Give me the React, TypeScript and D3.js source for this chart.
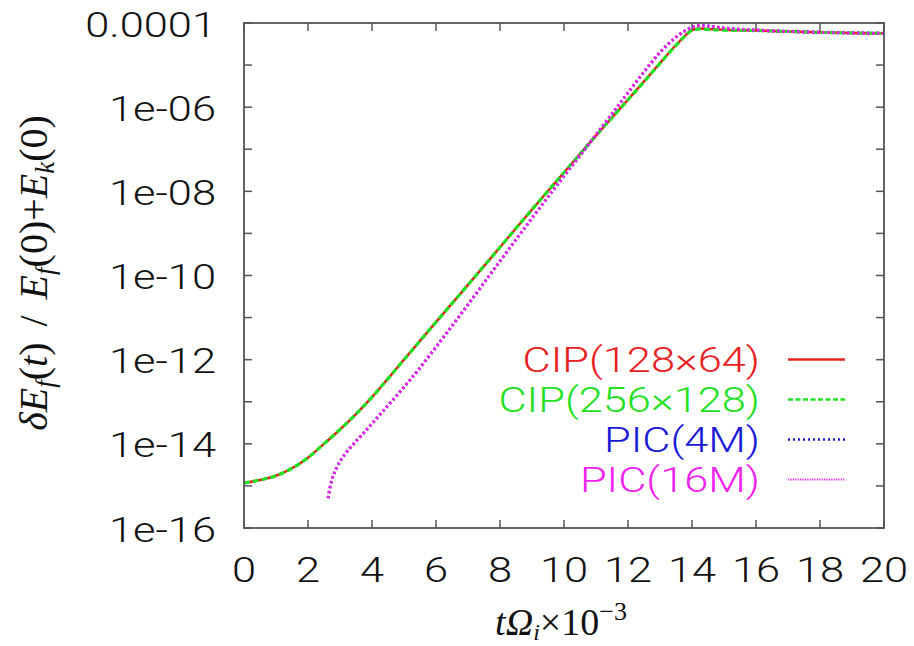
import React from "react";
import * as d3 from "d3";

const W = 914;
const H = 646;
const M = { left: 244, right: 884, top: 23, bottom: 528 };

const xTicks = [0, 2, 4, 6, 8, 10, 12, 14, 16, 18, 20];
const yTickLabels = ["0.0001", "1e-06", "1e-08", "1e-10", "1e-12", "1e-14", "1e-16"];
const yLabelValues = [1e-4, 1e-6, 1e-8, 1e-10, 1e-12, 1e-14, 1e-16];
const yMinorValues = [1e-5, 1e-7, 1e-9, 1e-11, 1e-13, 1e-15];

// CIP(128x64)
const tCip128 = [0, 0.5, 1, 1.5, 2, 2.5, 3, 3.5, 4, 4.5, 5, 6, 7, 8, 9, 10, 11, 12, 12.5, 13, 13.5, 13.75, 14, 14.25, 14.5, 15, 16, 17, 18, 19, 20];
const vCip128 = [1.17e-15, 1.38e-15, 1.74e-15, 2.63e-15, 4.7e-15, 1.0e-14, 2.19e-14, 5.1e-14, 1.29e-13, 3.55e-13, 1.0e-12, 7.8e-12, 6.0e-11, 4.7e-10, 3.7e-9, 2.8e-8, 2.1e-7, 1.51e-6, 4.1e-6, 1.12e-5, 3.0e-5, 4.7e-5, 6.8e-5, 7.4e-5, 7.2e-5, 6.9e-5, 6.6e-5, 6.3e-5, 6.0e-5, 5.8e-5, 5.7e-5];
// CIP(256x128)
const tCip256 = [0, 0.5, 1, 1.5, 2, 2.5, 3, 3.5, 4, 4.5, 5, 6, 7, 8, 9, 10, 11, 12, 12.5, 13, 13.5, 13.75, 14, 14.25, 14.5, 15, 16, 17, 18, 19, 20];
const vCip256 = [1.17e-15, 1.38e-15, 1.74e-15, 2.63e-15, 4.7e-15, 1.0e-14, 2.19e-14, 5.1e-14, 1.29e-13, 3.55e-13, 1.0e-12, 7.8e-12, 6.0e-11, 4.7e-10, 3.7e-9, 2.8e-8, 2.1e-7, 1.5e-6, 4.0e-6, 1.1e-5, 2.95e-5, 4.6e-5, 6.7e-5, 7.2e-5, 7.0e-5, 6.8e-5, 6.6e-5, 6.3e-5, 6.0e-5, 5.8e-5, 5.7e-5];
// PIC(4M)
const tPic4 = [2.63, 2.66, 2.69, 2.74, 2.8, 2.9, 3.0, 3.15, 3.3, 3.55, 3.8, 4.3, 4.9, 5.45, 6, 7, 8, 9, 10, 11, 12, 12.5, 13, 13.5, 14, 14.25, 14.5, 15, 15.5, 16, 17, 18, 19, 20];
const vPic4 = [5.1e-16, 7.1e-16, 9.3e-16, 1.35e-15, 1.86e-15, 2.75e-15, 3.8e-15, 5.6e-15, 7.8e-15, 1.26e-14, 2.04e-14, 5.5e-14, 1.82e-13, 5.75e-13, 2.0e-12, 2.04e-11, 2.19e-10, 2.3e-9, 2.3e-8, 2.2e-7, 2.2e-6, 6.9e-6, 2.0e-5, 4.6e-5, 7.9e-5, 8.7e-5, 8.5e-5, 7.6e-5, 7.1e-5, 6.8e-5, 6.3e-5, 6.0e-5, 5.8e-5, 5.7e-5];
// PIC(16M)
const tPic16 = [2.63, 2.66, 2.69, 2.74, 2.8, 2.9, 3.0, 3.15, 3.3, 3.55, 3.8, 4.3, 4.9, 5.45, 6, 7, 8, 9, 10, 11, 12, 12.5, 13, 13.5, 14, 14.25, 14.5, 15, 15.5, 16, 17, 18, 19, 20];
const vPic16 = [5.1e-16, 7.1e-16, 9.3e-16, 1.35e-15, 1.86e-15, 2.75e-15, 3.8e-15, 5.6e-15, 7.8e-15, 1.26e-14, 2.04e-14, 5.5e-14, 1.82e-13, 5.75e-13, 2.0e-12, 2.04e-11, 2.19e-10, 2.3e-9, 2.3e-8, 2.2e-7, 2.2e-6, 6.9e-6, 2.0e-5, 4.6e-5, 7.9e-5, 8.7e-5, 8.5e-5, 7.6e-5, 7.1e-5, 6.8e-5, 6.3e-5, 6.0e-5, 5.8e-5, 5.7e-5];

const seriesNames = ["CIP(128×64)", "CIP(256×128)", "PIC(4M)", "PIC(16M)"];

const RED = "#e8201e";
const GREEN = "#22e022";
const BLUE = "#1818d6";
const MAGENTA = "#f022f0";
const AXIS = "#555555";

const FONT = "Roboto, 'Liberation Sans', Arial, sans-serif";
const SERIF = "'Liberation Serif', 'Times New Roman', serif";
const FS = 35;
const SX = 1.24;

export default function App() {
  const x = d3.scaleLinear().domain([0, 20]).range([M.left, M.right]);
  const y = d3.scaleLog().domain([1e-16, 1e-4]).range([M.bottom, M.top]);

  const line = d3
    .line<[number, number]>()
    .x((d) => x(d[0]))
    .y((d) => y(d[1]))
    .curve(d3.curveMonotoneX);

  const zip = (t: number[], v: number[]) => t.map((ti, i) => [ti, v[i]] as [number, number]);

  const styles = [
    { color: RED, width: 2.5, dash: undefined as string | undefined, data: zip(tCip128, vCip128), legendDash: undefined as string | undefined, legendWidth: 2.5 },
    { color: GREEN, width: 3.2, dash: "6,3", data: zip(tCip256, vCip256), legendDash: "5,2.5", legendWidth: 2.5 },
    { color: BLUE, width: 3, dash: "2,3", data: zip(tPic4, vPic4), legendDash: "2,3", legendWidth: 2.5 },
    { color: MAGENTA, width: 3, dash: "2.5,2.5", data: zip(tPic16, vPic16), legendDash: "1.2,1.2", legendWidth: 2 },
  ];

  const allY = [...yLabelValues, ...yMinorValues];
  const tickLen = 8;

  return (
    <svg
      width={W}
      height={H}
      style={{ position: "absolute", left: 0, top: 0, background: "#fff" }}
    >
      <rect x={0} y={0} width={W} height={H} fill="#fff" />
      <defs>
        <clipPath id="plotclip">
          <rect x={M.left} y={M.top - 2} width={M.right - M.left} height={M.bottom - M.top + 2} />
        </clipPath>
      </defs>

      {/* ticks */}
      {xTicks.map((t) => (
        <g key={"xt" + t}>
          <line x1={x(t)} x2={x(t)} y1={M.bottom} y2={M.bottom - tickLen} stroke={AXIS} strokeWidth={1.5} />
          <line x1={x(t)} x2={x(t)} y1={M.top} y2={M.top + tickLen} stroke={AXIS} strokeWidth={1.5} />
        </g>
      ))}
      {allY.map((v, i) => (
        <g key={"yt" + i}>
          <line x1={M.left} x2={M.left + tickLen} y1={y(v)} y2={y(v)} stroke={AXIS} strokeWidth={1.5} />
          <line x1={M.right} x2={M.right - tickLen} y1={y(v)} y2={y(v)} stroke={AXIS} strokeWidth={1.5} />
        </g>
      ))}

      {/* curves */}
      <g clipPath="url(#plotclip)" fill="none">
        {styles.map((s, i) => (
          <path
            key={"c" + i}
            d={line(s.data) || ""}
            stroke={s.color}
            strokeWidth={s.width}
            strokeDasharray={s.dash}
            strokeLinecap="butt"
          />
        ))}
      </g>

      {/* frame */}
      <rect
        x={M.left}
        y={M.top}
        width={M.right - M.left}
        height={M.bottom - M.top}
        fill="none"
        stroke={AXIS}
        strokeWidth={1.8}
      />

      {/* x tick labels */}
      {xTicks.map((t) => (
        <text
          key={"xl" + t}
          transform={`translate(${x(t)},582) scale(${SX},1)`}
          textAnchor="middle"
          fontFamily={FONT}
          fontWeight={300}
          fontSize={FS}
          fill="#111"
        >
          {String(t)}
        </text>
      ))}

      {/* y tick labels */}
      {yLabelValues.map((v, i) => (
        <text
          key={"yl" + i}
          transform={`translate(216,${y(v) + 13.5}) scale(${SX},1)`}
          textAnchor="end"
          fontFamily={FONT}
          fontWeight={300}
          fontSize={FS}
          fill="#111"
        >
          {yTickLabels[i]}
        </text>
      ))}

      {/* legend */}
      {styles.map((s, i) => {
        const base = 371.5 + i * 40;
        return (
          <g key={"lg" + i}>
            <text
              transform={`translate(760,${base}) scale(${SX},1)`}
              textAnchor="end"
              fontFamily={FONT}
              fontWeight={300}
              fontSize={FS}
              fill={s.color}
            >
              {seriesNames[i]}
            </text>
            <line
              x1={788}
              x2={845}
              y1={base - 12}
              y2={base - 12}
              stroke={s.color}
              strokeWidth={s.legendWidth}
              strokeDasharray={s.legendDash}
            />
          </g>
        );
      })}

      {/* x axis label */}
      <text x={561} y={635} textAnchor="middle" fontFamily={SERIF} fontSize={38} fill="#111">
        <tspan fontStyle="italic">t</tspan>
        <tspan fontStyle="italic">Ω</tspan>
        <tspan fontStyle="italic" fontSize={24} dy={5}>i</tspan>
        <tspan dy={-5}>×10</tspan>
        <tspan fontSize={26} dy={-15}>−3</tspan>
      </text>

      {/* y axis label */}
      <text
        transform="translate(47,273) rotate(-90)"
        textAnchor="middle"
        fontFamily={SERIF}
        fontSize={40}
        fill="#111"
      >
        <tspan fontStyle="italic">δE</tspan>
        <tspan fontStyle="italic" fontSize={27} dy={7}>f</tspan>
        <tspan dy={-7}>(</tspan>
        <tspan fontStyle="italic">t</tspan>
        <tspan>)</tspan>
        <tspan dx={16}>/</tspan>
        <tspan fontStyle="italic" dx={16}>E</tspan>
        <tspan fontStyle="italic" fontSize={27} dy={7}>f</tspan>
        <tspan dy={-7}>(0)+</tspan>
        <tspan fontStyle="italic">E</tspan>
        <tspan fontStyle="italic" fontSize={27} dy={7}>k</tspan>
        <tspan dy={-7}>(0)</tspan>
      </text>
    </svg>
  );
}
